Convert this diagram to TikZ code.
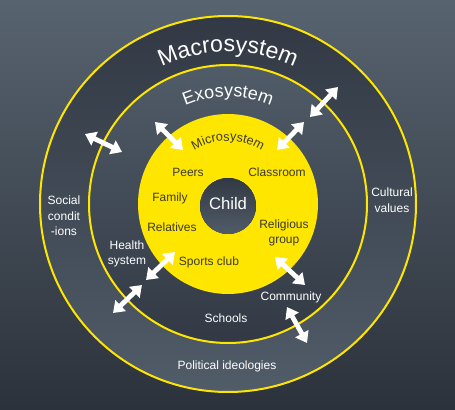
\documentclass[tikz,border=0pt]{standalone}
\usepackage{fontspec}
\setmainfont{Liberation Sans}
\usetikzlibrary{arrows.meta,decorations.text}

\definecolor{bgtop}{RGB}{87,99,111}
\definecolor{bgbot}{RGB}{44,50,59}
\definecolor{ringdark}{RGB}{50,57,68}
\definecolor{ringlight}{RGB}{80,92,104}
\definecolor{sunyellow}{RGB}{255,230,0}
\definecolor{inktext}{RGB}{58,58,48}

\tikzset{every picture/.style={line width=0.75pt}}
\tikzset{
  ring/.style={draw=sunyellow, line width=1.5},
  twoway/.style={draw=white, line width=3.6, {Triangle[width=11pt,length=8pt]}-{Triangle[width=11pt,length=8pt]}},
  outtext/.style={text=white, font=\fontsize{9}{11.2}\selectfont, align=center, inner sep=0.75pt},
  yeltext/.style={outtext, text=inktext},
}

\begin{document}
\begin{tikzpicture}[x=0.75pt,y=0.75pt,yscale=-1,xscale=1]
        %Background
        \fill [top color=bgtop, bottom color=bgbot] (0,0) rectangle (455,410);
        \useasboundingbox (0,0) rectangle (455,410);
        %Circle: Macrosystem
        \draw [ring, top color=ringdark, bottom color=ringlight] (228,204) circle [radius=188];
        %Circle: Exosystem
        \draw [ring, top color=ringlight, bottom color=ringdark] (228,204) circle [radius=139];
        %Circle: Microsystem
        \fill [sunyellow] (228,204) circle [radius=90];
        %Circle: Child
        \fill [top color=ringdark, bottom color=ringlight] (228,206) circle [radius=28];

        %Curved titles
        \path [decorate, decoration={text along path, text align=center, text={|\fontsize{17.3}{17.3}\selectfont\color{white}|Macrosystem}}] (228,204) ++(200:152) arc [start angle=200, end angle=340, radius=152];
        \path [decorate, decoration={text along path, text align=center, text={|\fontsize{13.5}{13.5}\selectfont\color{white}|Exosystem}}] (228,204) ++(200:107) arc [start angle=200, end angle=340, radius=107];
        \path [decorate, decoration={text along path, text align=center, text={|\fontsize{9.5}{9.5}\selectfont\color{inktext}|Microsystem}}] (228,204) ++(195:63) arc [start angle=195, end angle=345, radius=63];

        %Double arrows
        \coordinate (a1) at (310,117);  \coordinate (a2) at (338,87);
        \coordinate (b1) at (277,150);  \coordinate (b2) at (304,122);
        \coordinate (c1) at (155,122);  \coordinate (c2) at (183,150);
        \coordinate (d1) at (85,134);   \coordinate (d2) at (122,152);
        \coordinate (e1) at (175,252);  \coordinate (e2) at (146,280);
        \coordinate (f1) at (142,285);  \coordinate (f2) at (113,313);
        \coordinate (g1) at (275,257);  \coordinate (g2) at (305,285);
        \coordinate (h1) at (287,307);  \coordinate (h2) at (307,343);
        \draw [twoway] (a1) -- (a2);
        \draw [twoway] (b1) -- (b2);
        \draw [twoway] (c1) -- (c2);
        \draw [twoway] (d1) -- (d2);
        \draw [twoway] (e1) -- (e2);
        \draw [twoway] (f1) -- (f2);
        \draw [twoway] (g1) -- (g2);
        \draw [twoway] (h1) -- (h2);

        % Text Node
        \draw (228,204) node (child) [outtext, font=\fontsize{12.5}{12.5}\selectfont] {Child};
        % Text Node
        \draw (188,172) node (peers) [yeltext] {Peers};
        % Text Node
        \draw (277,172) node (classroom) [yeltext] {Classroom};
        % Text Node
        \draw (170,198) node (family) [yeltext] {Family};
        % Text Node
        \draw (172,227) node (relatives) [yeltext] {Relatives};
        % Text Node
        \draw (284,233) node (religious) [yeltext] {Religious\\group};
        % Text Node
        \draw (209,262) node (sports) [yeltext] {Sports club};
        % Text Node
        \draw (64,216) node (social) [outtext, font=\fontsize{9}{11.6}\selectfont] {Social\\condit\\-ions};
        % Text Node
        \draw (127,254) node (health) [outtext] {Health\\system};
        % Text Node
        \draw (392,200) node (cultural) [outtext, font=\fontsize{9}{12}\selectfont] {Cultural\\values};
        % Text Node
        \draw (291,297) node (community) [outtext] {Community};
        % Text Node
        \draw (226,318) node (schools) [outtext] {Schools};
        % Text Node
        \draw (227,366) node (political) [outtext] {Political ideologies};
\end{tikzpicture}
\end{document}
